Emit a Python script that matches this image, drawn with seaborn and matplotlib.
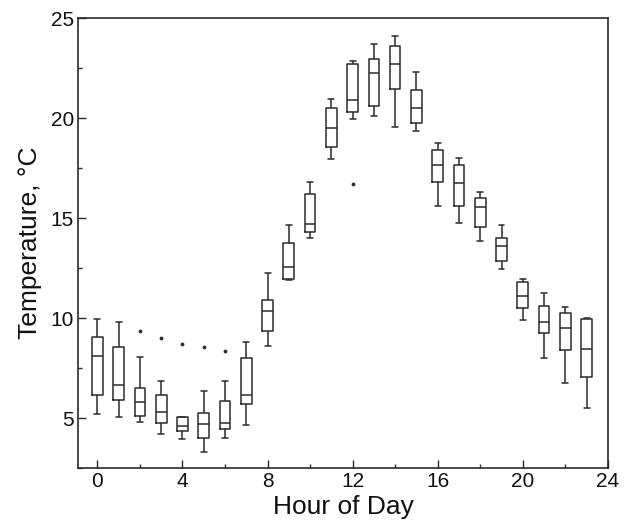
import numpy as np
import pandas as pd
import matplotlib
matplotlib.use("Agg")
import matplotlib.pyplot as plt
from matplotlib.ticker import MultipleLocator
import seaborn as sns

hours = list(range(24))
whisker_low = [5.21, 5.06, 4.80, 4.19, 3.94, 3.30, 3.99, 4.65, 8.59, 11.88, 14.03, 17.97,
               19.95, 20.10, 19.58, 19.36, 15.59, 14.76, 13.88, 12.43, 9.89, 7.98, 6.73, 5.48]
q1 = [6.15, 5.90, 5.11, 4.74, 4.34, 3.99, 4.44, 5.68, 9.35, 11.97, 14.29, 18.57,
      20.31, 20.61, 21.44, 19.78, 16.82, 15.59, 14.56, 12.83, 10.52, 9.27, 8.42, 7.03]
median = [8.08, 6.63, 5.80, 5.28, 4.62, 4.68, 4.75, 6.16, 10.35, 12.53, 14.73, 19.53,
          20.90, 22.24, 22.69, 20.51, 17.67, 16.74, 15.54, 13.61, 11.10, 9.82, 9.50, 8.44]
q3 = [9.06, 8.53, 6.48, 6.13, 5.05, 5.23, 5.85, 7.98, 10.92, 13.76, 16.22, 20.50,
      22.71, 22.94, 23.62, 21.41, 18.43, 17.67, 15.99, 14.03, 11.80, 10.60, 10.27, 9.94]
whisker_high = [9.94, 9.82, 8.03, 6.85, 5.05, 6.36, 6.85, 8.81, 12.27, 14.64, 16.82, 20.94,
                22.84, 23.69, 24.09, 22.32, 18.78, 18.02, 16.31, 14.64, 11.93, 11.23, 10.54, 10.02]
outlier_hours = [2, 3, 4, 5, 6, 12]
outlier_values = [9.34, 9.01, 8.71, 8.56, 8.33, 16.69]

rows = []
for i, h in enumerate(hours):
    for v in (whisker_low[i], q1[i], median[i], q3[i], whisker_high[i]):
        rows.append({"hour": h, "temp": v})
df = pd.DataFrame(rows)

sns.set_theme(style="white")
plt.rcParams['font.family'] = ['Liberation Sans', 'DejaVu Sans']

fig = plt.figure(figsize=(6.26, 5.2), dpi=100)
ax = fig.add_axes([0.125, 0.10, 0.846, 0.865])

lc = "#2b2b2b"
sns.boxplot(data=df, x="hour", y="temp", native_scale=True, width=0.5,
            whis=np.inf, fill=False, color=lc, linecolor=lc, linewidth=1.1,
            showfliers=False, capwidths=0.28, ax=ax)
ax.scatter(outlier_hours, outlier_values, s=3, color=lc, zorder=3)

ax.set_xlim(-0.9, 24)
ax.set_ylim(2.5, 25)
ax.xaxis.set_major_locator(MultipleLocator(4))
ax.xaxis.set_minor_locator(MultipleLocator(2))
ax.yaxis.set_major_locator(MultipleLocator(5))
ax.yaxis.set_minor_locator(MultipleLocator(2.5))
ax.tick_params(which="both", direction="in", color=lc, width=1.0,
               bottom=True, left=True, top=False, right=False)
ax.tick_params(which="major", length=6, labelsize=15, labelcolor="#111111", pad=3)
ax.tick_params(which="minor", length=3)
for s in ax.spines.values():
    s.set_color(lc)
    s.set_linewidth(1.2)
    s.set_visible(True)
ax.set_xlabel("Hour of Day", fontsize=19, color="#111111", labelpad=3)
ax.set_ylabel("Temperature, °C", fontsize=19, color="#111111", labelpad=6)

fig.savefig("out.png", dpi=100)
